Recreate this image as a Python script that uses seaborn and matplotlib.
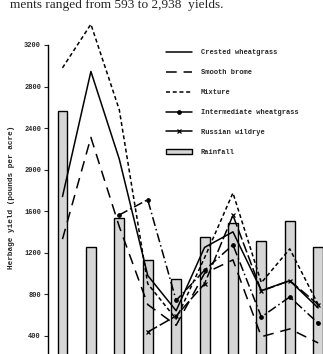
import numpy as np
import pandas as pd
import matplotlib
matplotlib.use("Agg")
import matplotlib.pyplot as plt
import seaborn as sns
from matplotlib.lines import Line2D
from matplotlib.patches import Patch

# ---- data ----
years = list(range(10))
rainfall = [2560, 1258, 1532, 1130, 950, 1351, 1490, 1313, 1509, 1252]
crested = [1740, 2945, 2100, 980, 640, 1250, 1400, 834, 930, 667]
smooth_brome = [1330, 2310, 1450, 700, 500, 1000, 1130, 390, 465, 330]
mixture = [2980, 3400, 2575, 900, 560, 1150, 1775, 910, 1236, 700]
intermediate = [None, None, 1563, 1710, 740, 1030, 1275, 580, 773, 520]
russian = [None, None, None, 435, 590, 900, 1560, 830, 930, 700]
yticks = [400, 800, 1200, 1600, 2000, 2400, 2800, 3200]
header = "ments ranged from 593 to 2,938  yields."

sns.set_style("white")
plt.rcParams['font.family'] = ['Liberation Mono', 'DejaVu Sans Mono']

fig = plt.figure(figsize=(3.23, 3.54), dpi=100)
ax = fig.add_axes([0.1486, -0.0655, 0.8514, 0.9384])

sns.barplot(x=years, y=rainfall, ax=ax, color="#d6d6d6", edgecolor="black",
            linewidth=1.0, width=0.35, saturation=1)

series = [
    ("Crested wheatgrass", crested, dict(linestyle="-"), None),
    ("Smooth brome", smooth_brome, dict(dashes=(7, 4.5)), None),
    ("Mixture", mixture, dict(dashes=(2.6, 1.8)), None),
    ("Intermediate wheatgrass", intermediate, dict(dashes=(6, 2, 1, 2)), "o"),
    ("Russian wildrye", russian, dict(dashes=(7, 2)), "x"),
]
handles = []
for name, vals, ls, mk in series:
    df = pd.DataFrame({"x": years, "y": vals}).dropna()
    sns.lineplot(data=df, x="x", y="y", marker=mk if mk else None,
                 markersize=2.5, markeredgewidth=0.9, markerfacecolor="black",
                 markeredgecolor="black", color="black", linewidth=1.1,
                 ax=ax, legend=False)
    ln = ax.lines[-1]
    if "dashes" in ls:
        ln.set_dashes(ls["dashes"])
    ln.set_clip_on(False)
    h = Line2D([], [], color="black", linewidth=1.1,
               marker=mk if mk else None, markersize=2.5,
               markeredgewidth=0.9, markerfacecolor="black")
    if "dashes" in ls and mk is None:
        h.set_dashes(ls["dashes"])
    handles.append(h)
handles.append(Patch(facecolor="#d6d6d6", edgecolor="black", linewidth=1.0))
labels = [s[0] for s in series] + ["Rainfall"]

ax.set_xlim(-0.51, 9.17)
ax.set_ylim(0, 3200)
ax.set_yticks(yticks)
ax.set_yticklabels([str(t) for t in yticks], fontsize=5, fontweight="bold")
ax.set_xticks([])
ax.set_xlabel("")
ax.set_ylabel("Herbage yield (pounds per acre)", fontsize=5.6,
              fontweight="bold")
ax.yaxis.set_label_coords(-0.12, 0.54)
ax.tick_params(axis="y", direction="out", length=3, width=0.8, pad=2, left=True)
for s in ["top", "right", "bottom"]:
    ax.spines[s].set_visible(False)
ax.spines["left"].set_linewidth(1.0)
ax.spines["left"].set_color("black")

fig.legend(handles, labels, loc="upper left",
           bbox_to_anchor=(0.495, 0.878), frameon=False,
           prop={"family": "Liberation Mono", "weight": "bold", "size": 5},
           handlelength=3.7, handletextpad=1.3, labelspacing=1.85,
           numpoints=1)

fig.text(0.03, 1 - 8 / 354, header, fontsize=9.6, family="Liberation Serif",
         va="baseline", ha="left")

fig.savefig("out.png", dpi=100)
